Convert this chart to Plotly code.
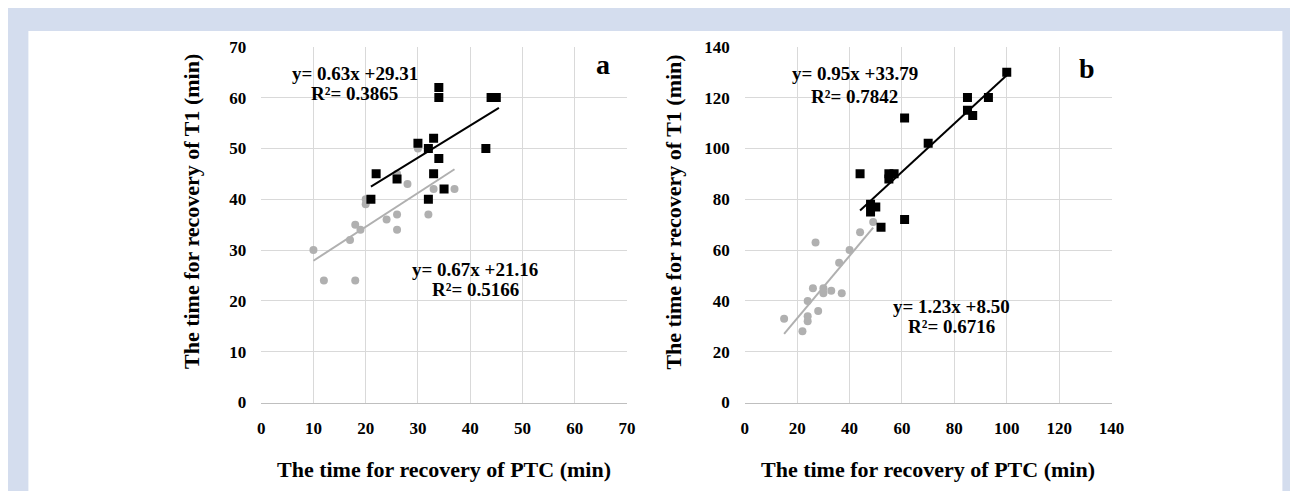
import plotly.graph_objects as go

# The page adds an 8px body margin; the figure is sized to fit inside the window.
W, H = 1282, 483

# map a target pixel position in the 1298x499 window to paper fractions
def px(t):
    return (t - 10.6) / 1266.0

def py(t):
    return 1 - (t - 16.0) / 467.0

# ---- Panel a data ----
a_black_x = [34, 34, 44, 45, 30, 33, 32, 43, 34, 22, 33, 26, 35, 21, 32]
a_black_y = [62, 60, 60, 60, 51, 52, 50, 50, 48, 45, 45, 44, 42, 40, 40]
a_gray_x = [10, 12, 18, 17, 18, 19, 20, 20, 24, 26, 26, 28, 30, 32, 33, 37, 26]
a_gray_y = [30, 24, 24, 32, 35, 34, 40, 39, 36, 37, 34, 43, 50, 37, 42, 42, 45]
a_black_fit_x = [21, 45.5]
a_black_fit_y = [42.5, 58.0]
a_gray_fit_x = [10, 37]
a_gray_fit_y = [27.9, 45.9]

# ---- Panel b data ----
b_black_x = [100, 85, 93, 85, 87, 61, 70, 44, 55, 57, 55, 48, 50, 48, 52, 61]
b_black_y = [130, 120, 120, 115, 113, 112, 102, 90, 90, 90, 88, 78, 77, 75, 69, 72]
b_gray_x = [15, 22, 24, 24, 24, 28, 27, 26, 30, 30, 33, 37, 36, 40, 44, 49]
b_gray_y = [33, 28, 32, 34, 40, 36, 63, 45, 45, 43, 44, 43, 55, 60, 67, 71]
b_black_fit_x = [44, 100]
b_black_fit_y = [75.6, 128.8]
b_gray_fit_x = [15, 49]
b_gray_fit_y = [27.0, 68.8]

x_ticks_a = [0, 10, 20, 30, 40, 50, 60, 70]
x_ticks_b = [0, 20, 40, 60, 80, 100, 120, 140]

BLACK = "#000000"
GRAY = "#b0b0b0"
GRID = "#d9d9d9"
FONT = "Liberation Serif"

fig = go.Figure()

def add_panel(xa, ya, bx, by, gx, gy, bfx, bfy, gfx, gfy):
    fig.add_trace(go.Scatter(x=gfx, y=gfy, mode="lines", line=dict(color=GRAY, width=2),
                             xaxis=xa, yaxis=ya, showlegend=False, hoverinfo="skip"))
    fig.add_trace(go.Scatter(x=gx, y=gy, mode="markers",
                             marker=dict(symbol="circle", size=8, color=GRAY, line=dict(width=0)),
                             xaxis=xa, yaxis=ya, showlegend=False))
    fig.add_trace(go.Scatter(x=bfx, y=bfy, mode="lines", line=dict(color=BLACK, width=2),
                             xaxis=xa, yaxis=ya, showlegend=False, hoverinfo="skip"))
    fig.add_trace(go.Scatter(x=bx, y=by, mode="markers",
                             marker=dict(symbol="square", size=9, color=BLACK, line=dict(width=0)),
                             xaxis=xa, yaxis=ya, showlegend=False))

add_panel("x", "y", a_black_x, a_black_y, a_gray_x, a_gray_y,
          a_black_fit_x, a_black_fit_y, a_gray_fit_x, a_gray_fit_y)
add_panel("x2", "y2", b_black_x, b_black_y, b_gray_x, b_gray_y,
          b_black_fit_x, b_black_fit_y, b_gray_fit_x, b_gray_fit_y)

tickfont = dict(family=FONT, size=17, color="#000000", weight="bold")

def xaxis_cfg(domain, rng, ticks, anchor):
    return dict(domain=domain, range=rng, tickvals=ticks, ticktext=[str(t) for t in ticks],
                showgrid=True, gridcolor=GRID, gridwidth=1, zeroline=False,
                showline=True, linecolor="#bfbfbf", linewidth=1.5, mirror=False,
                ticks="", tickfont=tickfont, ticklabelstandoff=10, fixedrange=True,
                anchor=anchor)

def yaxis_cfg(domain, rng, dtick, anchor):
    return dict(domain=domain, range=rng, dtick=dtick, tick0=0,
                showgrid=True, gridcolor=GRID, gridwidth=1, zeroline=False,
                showline=False, ticks="", tickfont=tickfont, ticklabelstandoff=14,
                anchor=anchor, fixedrange=True)

ydom = [py(404), py(46)]
fig.update_layout(
    width=W, height=H, autosize=False,
    margin=dict(l=0, r=0, t=0, b=0),
    paper_bgcolor="#d4ddee", plot_bgcolor="#ffffff",
    font=dict(family=FONT, color="#000000"),
    xaxis=xaxis_cfg([px(260), px(626)], [0, 70], x_ticks_a, "y"),
    yaxis=yaxis_cfg(ydom, [0, 70], 10, "x"),
    xaxis2=xaxis_cfg([px(744), px(1111)], [0, 140], x_ticks_b, "y2"),
    yaxis2=yaxis_cfg(ydom, [0, 140], 20, "x2"),
)

# white inner panel
fig.add_shape(type="rect", xref="paper", yref="paper", x0=px(27), x1=px(1282), y0=-0.2, y1=py(30),
              fillcolor="#ffffff", line=dict(width=0), layer="below")

ann = []
def txt(x, y, text, xref="paper", yref="paper", size=19, angle=0):
    ann.append(dict(x=x, y=y, xref=xref, yref=yref, text=text, showarrow=False,
                    font=dict(family=FONT, size=size, color="#000000", weight="bold"),
                    textangle=angle, xanchor="center", yanchor="middle", align="center"))

# equations panel a
txt(17.9, 64.7, "y= 0.63x +29.31", "x", "y")
txt(17.9, 60.8, "R²= 0.3865", "x", "y")
txt(41.0, 26.2, "y= 0.67x +21.16", "x", "y")
txt(41.0, 22.3, "R²= 0.5166", "x", "y")
txt(65.5, 66.6, "a", "x", "y", size=28)
# equations panel b
txt(41.9, 129.4, "y= 0.95x +33.79", "x2", "y2")
txt(41.9, 120.5, "R²= 0.7842", "x2", "y2")
txt(78.8, 37.9, "y= 1.23x +8.50", "x2", "y2")
txt(78.8, 30.1, "R²= 0.6716", "x2", "y2")
txt(130.5, 131.5, "b", "x2", "y2", size=28)

# axis titles
txt(px(443), py(471), "The time for recovery of PTC (min)", size=22)
txt(px(927), py(471), "The time for recovery of PTC (min)", size=22)
txt(px(190), py(212), "The time for recovery of T1 (min)", size=22, angle=-90)
txt(px(673), py(212), "The time for recovery of T1 (min)", size=22, angle=-90)

fig.update_layout(annotations=ann)
fig.write_html("out.html",
               config={"responsive": False, "displayModeBar": False, "staticPlot": True})
